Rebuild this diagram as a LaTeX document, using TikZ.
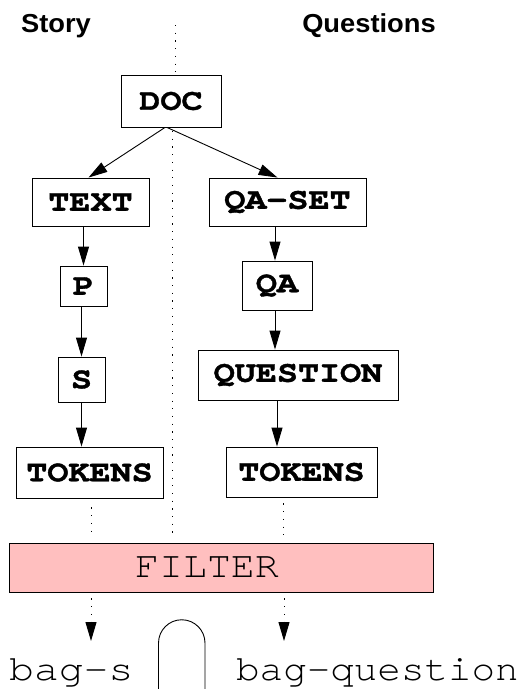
\documentclass[tikz,border=0pt]{standalone}
\usepackage{fontspec}
\usepackage{graphicx}
\usetikzlibrary{arrows.meta,calc}
\newfontfamily\courfont{TeX Gyre Cursor}[BoldFeatures={FakeBold=1.2}]
\newfontfamily\helvfont{Liberation Sans}
\newcommand\bxs[1]{\scalebox{1.17}[1]{#1}}
\newcommand\sns[1]{\scalebox{1.05}[1]{#1}}
\begin{document}
\begin{tikzpicture}[x=1pt,y=-1pt,
  stepbox/.style={draw, line width=0.9pt, inner sep=0pt,
    font=\courfont\bfseries\fontsize{30}{30}\selectfont},
  filterbox/.style={draw, line width=0.9pt, inner sep=0pt, fill={rgb,255:red,255;green,191;blue,191},
    font=\courfont\fontsize{37}{37}\selectfont},
  outtext/.style={inner sep=0pt, anchor=base west, font=\courfont\fontsize{36}{36}\selectfont},
  lab/.style={inner sep=0pt, font=\helvfont\bfseries\fontsize{26}{26}\selectfont},
  arr/.style={-{Triangle[length=19pt,width=11pt]}, line width=0.9pt},
  dots/.style={line width=1pt, dash pattern=on 1.2pt off 6.5pt}]
\useasboundingbox (0,0) rectangle (528,689);

% labels
\node[lab] (story) at (56,26) {\sns{Story}};
\node[lab] (questions) at (369,26) {\sns{Questions}};

% boxes
\node[stepbox, minimum width=100pt, minimum height=52pt] (doc) at (171,101) {\bxs{DOC}};
\node[stepbox, minimum width=117pt, minimum height=48pt] (text) at (90.5,202) {\bxs{TEXT}};
\node[stepbox, minimum width=157pt, minimum height=48pt] (qaset) at (287.5,202) {\bxs{QA-SET}};
\node[stepbox, minimum width=47pt, minimum height=40pt] (p) at (83.5,286) {\bxs{P}};
\node[stepbox, minimum width=70pt, minimum height=49pt] (qa) at (277,285.5) {\bxs{QA}};
\node[stepbox, minimum width=47pt, minimum height=45pt] (s) at (81.5,379.5) {\bxs{S}};
\node[stepbox, minimum width=200pt, minimum height=50pt] (question) at (298,375) {\bxs{QUESTION}};
\node[stepbox, minimum width=147pt, minimum height=51pt] (tokl) at (89.5,472.5) {\bxs{TOKENS}};
\node[stepbox, minimum width=151pt, minimum height=50pt] (tokr) at (301.5,472) {\bxs{TOKENS}};
\node[filterbox, minimum width=424pt, minimum height=49pt] (filter) at (221,567.5) {\scalebox{1.08}[1]{FILTER}\hspace*{28pt}};

% outputs
\node[outtext] (bags) at (9,680) {\scalebox{1.15}[1]{bag-s}};
\node[outtext] (bagq) at (236,680) {\scalebox{1.09}[1]{bag-question}};

% helper coordinates
\coordinate (vtop) at (175,25);
\coordinate (vmid) at (172,131);
\coordinate (vbot) at (172,537);
\coordinate (xl) at (91,0);
\coordinate (xr) at (283,0);
\coordinate (tipl) at (91,641);
\coordinate (tipr) at (284,641);
\coordinate (arcl) at (158.5,689);
\coordinate (arcr) at (205,689);

% dotted separator
\draw[dots] (vtop) -- (doc.north -| vtop);
\draw[dots] (vmid) -- (vbot);

% tree arrows
\draw[arr] ([xshift=-6pt]doc.south) -- ([xshift=-2pt]text.north);
\draw[arr] ([xshift=-4pt]doc.south) -- ([xshift=-10pt]qaset.north);
\draw[arr] (p.north |- text.south) -- (p.north);
\draw[arr] ([xshift=-2pt]qa.north |- qaset.south) -- ([xshift=-2pt]qa.north);
\draw[arr] (s.north |- p.south) -- (s.north);
\draw[arr] ([xshift=-2pt]qa.south) -- ([xshift=-2pt]qa.south |- question.north);
\draw[arr] (s.south) -- (s.south |- tokl.north);
\draw[arr] (qa.south |- question.south) -- (qa.south |- tokr.north);

% dotted feeds into filter
\draw[dots] ([yshift=-9pt]tokl.south -| xl) -- ([yshift=6pt]filter.north -| xl);
\draw[dots] ([yshift=-6pt]tokr.south -| xr) -- ([yshift=8pt]filter.north -| xr);
\draw[dots, arr, line width=1pt] ([yshift=-6pt]filter.south -| tipl) -- (tipl);
\draw[dots, arr, line width=1pt] ([yshift=-6pt]filter.south -| tipr) -- (tipr);

% arch
\draw[line width=0.9pt] (arcl) -- (158.5,643) arc[start angle=180, end angle=360, radius=23.25] -- (arcr);
\end{tikzpicture}
\end{document}
